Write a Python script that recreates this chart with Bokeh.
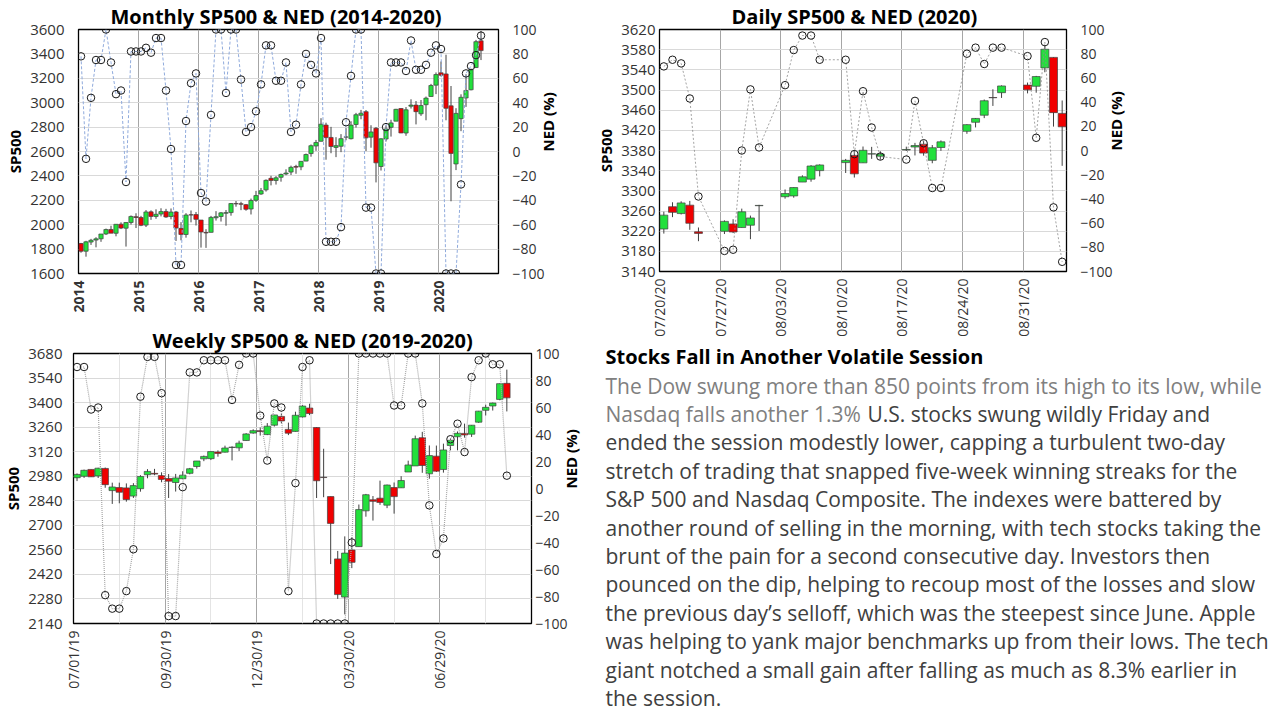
import math
import pandas as pd
from bokeh.plotting import figure
from bokeh.models import Range1d, LinearAxis, FixedTicker, ColumnDataSource
from bokeh.layouts import row, column
from bokeh.embed import file_html
from bokeh.resources import INLINE
from bokeh.core.properties import value

FONT = "Open Sans"

# ---------------- Monthly data (Jan 2014 .. Sep 2020) ----------------
m_start = "2014-01-01"
m_open = [1845.9,1782.7,1857.7,1874.0,1884.4,1923.9,1960.8,1929.8,2004.1,1971.4,2018.2,2065.8,
          2058.9,1996.7,2105.2,2067.6,2087.4,2108.6,2067.0,2104.5,1970.1,1919.7,2080.8,2082.9,
          2038.2,1936.9,1937.1,2056.6,2067.2,2093.9,2099.3,2173.2,2171.3,2164.3,2128.7,2200.2,
          2251.6,2285.6,2380.1,2362.3,2388.5,2415.7,2431.4,2477.1,2474.4,2521.2,2583.2,2645.1,
          2683.7,2816.5,2715.2,2633.5,2643.0,2718.7,2705.0,2821.2,2897.0,2926.3,2717.6,2790.5,
          2477.0,2702.3,2798.2,2848.6,2952.3,2751.5,2971.4,2980.3,2909.0,2983.7,3050.7,3143.9,
          3244.7,3235.7,2974.3,2498.1,2869.1,3038.8,3105.9,3288.3,3507.4]
m_high = [1850.8,1867.9,1884.0,1897.3,1924.0,1968.2,1991.4,2005.0,2019.3,2018.2,2075.8,2093.6,
          2072.4,2119.6,2117.5,2125.9,2134.7,2129.9,2132.8,2112.7,2020.9,2094.3,2116.5,2104.3,
          2038.2,1963.0,2072.2,2111.1,2103.5,2120.6,2177.1,2193.8,2187.9,2169.6,2214.1,2277.5,
          2301.0,2371.5,2401.0,2398.2,2418.7,2453.8,2484.0,2490.9,2519.4,2583.0,2657.7,2695.0,
          2872.9,2836.0,2801.9,2717.5,2742.2,2791.5,2848.0,2916.5,2940.9,2939.9,2815.2,2800.2,
          2709.0,2813.5,2860.3,2949.5,2954.1,2964.2,3028.0,3013.6,3022.0,3050.1,3154.3,3247.9,
          3337.8,3393.5,3136.7,2954.9,3068.7,3233.1,3280.0,3514.8,3588.1]
m_low = [1770.5,1737.9,1834.4,1814.4,1859.8,1916.0,1930.7,1904.8,1964.0,1820.7,2001.0,1972.6,
         1988.1,1980.9,2039.7,2048.4,2067.9,2056.3,2044.0,1867.0,1871.9,1893.7,2019.4,1993.3,
         1812.3,1810.1,1937.1,2033.8,2025.9,1991.7,2074.0,2147.6,2119.1,2114.7,2083.8,2187.4,
         2245.1,2271.7,2322.3,2329.0,2352.7,2405.7,2407.7,2417.4,2446.6,2520.4,2557.5,2605.5,
         2682.4,2532.7,2585.9,2553.8,2594.6,2692.0,2699.0,2796.3,2864.1,2603.5,2631.1,2346.6,
         2444.0,2681.8,2722.3,2848.6,2750.5,2728.8,2952.2,2822.1,2891.9,2855.9,3050.7,3070.3,
         3214.6,2855.8,2191.9,2447.5,2766.6,2965.7,3101.2,3284.5,3349.6]
m_close = [1782.6,1859.5,1872.3,1884.0,1923.6,1960.2,1930.7,2003.4,1972.3,2018.1,2067.6,2058.9,
           1995.0,2104.5,2067.9,2085.5,2107.4,2063.1,2103.8,1972.2,1920.0,2079.4,2080.4,2043.9,
           1940.2,1932.2,2059.7,2065.3,2097.0,2098.9,2173.6,2171.0,2168.3,2126.2,2198.8,2238.8,
           2278.9,2363.6,2362.7,2384.2,2411.8,2423.4,2470.3,2471.7,2519.4,2575.3,2647.6,2673.6,
           2823.8,2713.8,2640.9,2648.1,2705.3,2718.4,2816.3,2901.5,2914.0,2711.7,2760.2,2506.9,
           2704.1,2784.5,2834.4,2945.8,2752.1,2941.8,2980.4,2926.5,2976.7,3037.6,3141.0,3230.8,
           3225.5,2954.2,2584.6,2912.4,3044.3,3100.3,3271.1,3500.3,3427.0]
m_ned = [78,-6,44,75,75,100,73,47,50,-25,82,82,
         82,85,81,93,93,50,2,-93,-93,25,56,64,
         -34,-41,30,100,100,48,100,100,59,16,20,33,
         55,87,87,58,58,73,16,22,55,80,71,64,
         93,-74,-74,-74,-62,24,62,100,100,-46,-46,-100,
         -100,20,73,73,73,66,91,67,67,71,81,87,
         84,-100,-100,-100,-27,64,70,79,95]
m_tick_labels = ["2014", "2015", "2016", "2017", "2018", "2019", "2020"]

# ---------------- Daily data (2020-07-20 .. 2020-09-04) ----------------
d_dates = ["2020-07-20","2020-07-21","2020-07-22","2020-07-23","2020-07-24",
           "2020-07-27","2020-07-28","2020-07-29","2020-07-30","2020-07-31",
           "2020-08-03","2020-08-04","2020-08-05","2020-08-06","2020-08-07",
           "2020-08-10","2020-08-11","2020-08-12","2020-08-13","2020-08-14",
           "2020-08-17","2020-08-18","2020-08-19","2020-08-20","2020-08-21",
           "2020-08-24","2020-08-25","2020-08-26","2020-08-27","2020-08-28",
           "2020-08-31","2020-09-01","2020-09-02","2020-09-03","2020-09-04"]
d_open = [3224.3,3268.5,3254.9,3271.6,3218.6, 3219.8,3234.3,3227.2,3231.8,3270.5,
          3288.3,3289.9,3317.4,3323.2,3340.1, 3356.0,3370.3,3355.5,3373.0,3368.7,
          3380.9,3387.0,3392.5,3360.5,3386.0, 3418.1,3436.0,3450.0,3485.1,3494.7,
          3509.7,3507.4,3543.8,3564.7,3453.6]
d_high = [3258.6,3277.3,3279.3,3280.0,3227.3, 3241.4,3243.7,3264.7,3250.9,3272.2,
          3302.7,3306.8,3330.8,3351.0,3352.5, 3363.3,3381.0,3387.9,3387.2,3378.5,
          3387.6,3395.1,3399.5,3390.8,3400.0, 3432.1,3444.2,3481.1,3501.4,3509.2,
          3514.8,3528.0,3588.1,3564.9,3479.2]
d_low = [3215.2,3247.8,3253.1,3222.7,3200.1, 3214.3,3216.2,3227.2,3204.1,3220.3,
         3284.5,3286.4,3317.4,3318.1,3328.7, 3335.4,3326.4,3355.5,3363.4,3361.6,
         3379.2,3370.2,3369.7,3354.7,3379.3, 3413.1,3425.8,3444.2,3468.4,3484.3,
         3493.3,3494.6,3535.2,3427.4,3349.6]
d_close = [3251.8,3257.3,3276.0,3235.7,3215.6, 3239.4,3218.4,3258.4,3246.2,3271.1,
           3294.6,3306.5,3327.8,3349.2,3351.3, 3360.5,3333.7,3380.4,3373.4,3372.9,
           3382.0,3389.8,3374.9,3385.5,3397.2, 3431.3,3443.6,3478.7,3484.6,3508.0,
           3500.3,3526.7,3580.8,3455.1,3427.0]
d_ned = [69.5,75,72,43,-38, -83,-82,0,50.5,2.5,
         54,83,95,95,75, 75,-3,49,19,-5,
         -7.5,41,6,-31,-31, 80,85,71.5,85,85,
         78,10.5,89.6,-47,-92]
d_tick_labels = ["07/20/20", "07/27/20", "08/03/20", "08/10/20", "08/17/20", "08/24/20", "08/31/20"]

# ---------------- Weekly data (week of 2019-07-01 .. week of 2020-08-31) ----------------
w_start = "2019-07-01"
w_open = [2971.4,2979.8,3018.8,2981.9,3024.5,2898.1,2915.1,2913.5,2866.7,2909.0,
          2988.4,2996.4,2983.5,2967.1,2944.2,2965.8,2996.5,3035.4,3079.0,3080.3,
          3117.9,3117.4,3143.9,3141.9,3183.6,3226.1,3240.1,3217.6,3271.1,3321.0,
          3247.2,3235.7,3318.3,3369.0,3257.6,2974.3,2863.9,2508.6,2290.7,2559.0,
          2578.3,2782.5,2845.6,2854.7,2815.0,2915.5,2913.9,3004.1,3038.8,3199.9,
          2993.8,3094.4,3018.6,3155.3,3205.1,3224.3,3219.8,3288.3,3356.0,3380.9,
          3418.1,3509.7]
w_high = [2995.8,3017.8,3018.8,3028.0,3029.5,2943.3,2943.3,2939.1,2940.4,2985.9,
          3020.4,3022.0,3002.4,2992.5,2993.3,3008.3,3027.4,3067.0,3097.8,3120.5,
          3127.6,3154.3,3150.6,3182.7,3225.7,3247.9,3258.1,3283.0,3329.9,3337.8,
          3285.9,3348.0,3385.1,3393.5,3259.8,3136.7,2863.9,2553.9,2637.0,2631.8,
          2818.6,2879.2,2867.0,2954.9,2932.2,2944.3,2980.3,3068.7,3211.7,3233.1,
          3155.5,3154.9,3165.8,3197.5,3235.3,3280.0,3272.2,3352.5,3387.9,3400.0,
          3509.2,3588.1]
w_low = [2952.2,2970.4,2975.7,2969.8,2914.1,2822.1,2825.7,2835.0,2856.0,2891.9,
         2968.2,2985.7,2945.5,2855.9,2892.7,2962.9,2990.7,3023.2,3065.9,3072.2,
         3091.4,3115.3,3070.3,3123.9,3182.7,3222.4,3212.0,3214.6,3263.5,3281.5,
         3214.6,3234.5,3315.2,3328.5,2855.8,2860.3,2478.9,2280.5,2191.9,2455.8,
         2578.3,2749.2,2727.1,2816.8,2797.9,2766.6,2913.9,3004.1,3038.8,2999.5,
         2965.7,3004.6,3000.5,3127.7,3127.7,3200.1,3204.1,3284.5,3326.4,3354.7,
         3413.1,3349.6]
w_close = [2990.4,3013.8,2976.6,3025.9,2932.1,2918.7,2888.7,2847.1,2926.5,2978.7,
           3007.4,2992.1,2961.8,2952.0,2970.3,2986.2,3022.6,3066.9,3093.1,3120.5,
           3110.3,3141.0,3145.9,3168.8,3221.2,3240.0,3234.9,3265.4,3329.6,3295.5,
           3225.5,3327.7,3380.2,3337.8,2954.2,2972.4,2711.0,2304.9,2541.5,2488.7,
           2789.8,2874.6,2836.7,2830.7,2929.8,2863.7,2955.5,3044.3,3193.9,3041.3,
           3097.7,3009.1,3130.0,3185.0,3224.7,3215.6,3271.1,3351.3,3372.9,3397.2,
           3508.0,3427.0]
w_ned = [90,90,58.5,60,-79,-89,-89,-76,-45,68,
         97.5,97.5,70.6,-94.5,-94.5,1,86,86,95,95,
         95,95,65.6,91.6,100,100,54,20.7,63,60,
         -76,4,90,95,-100,-100,-100,-100,-100,-40,
         100,100,100,100,100,61.5,61.5,100,100,63,
         -12.5,-48.5,-37,36.5,48,27,82.5,95,100,92,
         92,9.5]
w_tick_labels = ["07/01/19", "09/30/19", "12/30/19", "03/30/20", "06/29/20"]

# ---------------- Text ----------------
headline = "Stocks Fall in Another Volatile Session"
lead_lines = ["The Dow swung more than 850 points from its high to its low, while",
              "Nasdaq falls another 1.3%"]
body_first = "U.S. stocks swung wildly Friday and"
body_lines = ["ended the session modestly lower, capping a turbulent two-day",
              "stretch of trading that snapped five-week winning streaks for the",
              "S&P 500 and Nasdaq Composite. The indexes were battered by",
              "another round of selling in the morning, with tech stocks taking the",
              "brunt of the pain for a second consecutive day. Investors then",
              "pounced on the dip, helping to recoup most of the losses and slow",
              "the previous day\u2019s selloff, which was the steepest since June. Apple",
              "was helping to yank major benchmarks up from their lows. The tech",
              "giant notched a small gain after falling as much as 8.3% earlier in",
              "the session."]

UP = "#22E03C"
DOWN = "#F00000"


def candle_chart(title, xs, o, h, l, c, ned, x_end, xticks, xlabels, y_lo, y_hi, y_step,
                 fw, fh, bl, br, bt, bb, bar_w, lcolor, ldash, lwidth,
                 xlab_bold=False, minor=None, title_off=0, left_standoff=12, right_standoff=12):
    p = figure(frame_width=fw, frame_height=fh, x_range=Range1d(0, x_end),
               y_range=Range1d(y_lo, y_hi), output_backend="svg", toolbar_location=None,
               min_border_left=bl, min_border_right=br, min_border_top=bt, min_border_bottom=bb)
    p.title.text = title
    p.title.align = "left"
    p.title.text_font = FONT
    p.title.text_font_size = "20px"
    p.title.text_font_style = "bold"
    p.title.text_color = "#000000"
    p.title.offset = title_off
    p.title.standoff = 0
    p.background_fill_color = "white"
    p.border_fill_color = "white"
    p.outline_line_color = "#000000"
    p.outline_line_width = 1.3
    p.extra_y_ranges = {"ned": Range1d(-100, 100)}

    top = [max(a, b) for a, b in zip(o, c)]
    bot = [min(a, b) for a, b in zip(o, c)]
    col = [UP if b >= a else DOWN for a, b in zip(o, c)]
    src = ColumnDataSource(dict(x=xs, top=top, bot=bot, hi=h, lo=l, col=col))
    p.segment(x0="x", y0="lo", x1="x", y1="hi", source=src, line_color="#404040", line_width=1)
    p.vbar(x="x", width=bar_w, top="top", bottom="bot", fill_color="col",
           line_color="#404040", line_width=0.7, source=src)
    p.line(xs, ned, y_range_name="ned", line_color=lcolor, line_dash=ldash, line_width=lwidth)
    p.scatter(xs, ned, y_range_name="ned", marker="circle", size=7.5, fill_color=None,
              line_color="#1A1A1A", line_width=1)

    yt = list(range(y_lo, y_hi + 1, y_step))
    p.ygrid.ticker = FixedTicker(ticks=yt)
    p.ygrid.grid_line_color = "#D9D9D9"
    p.xgrid.ticker = FixedTicker(ticks=xticks, minor_ticks=minor or [])
    p.xgrid.grid_line_color = "#A6A6A6"
    if minor:
        p.xgrid.minor_grid_line_color = "#E4E4E4"

    xa = p.xaxis[0]
    xa.ticker = FixedTicker(ticks=xticks)
    xa.major_label_overrides = {t: s for t, s in zip(xticks, xlabels)}
    xa.major_label_orientation = math.pi / 2
    xa.major_label_standoff = 7
    xa.major_label_text_font_size = "14px"
    if xlab_bold:
        xa.major_label_text_font_style = "bold"

    ya = p.yaxis[0]
    ya.ticker = FixedTicker(ticks=yt)
    ya.axis_label = "SP500"
    ya.major_label_standoff = left_standoff
    ya.major_label_text_font_size = "15px"
    ya.axis_label_standoff = 2

    ra = LinearAxis(y_range_name="ned", ticker=FixedTicker(ticks=list(range(-100, 101, 20))),
                    axis_label="NED (%)")
    ra.major_label_standoff = right_standoff
    ra.major_label_text_font_size = "14px"
    ra.axis_label_standoff = 0
    try:
        ra.axis_label_orientation = math.pi / 2
    except Exception:
        pass
    p.add_layout(ra, "right")

    for a in (xa, ya, ra):
        a.axis_line_color = None
        a.major_tick_line_color = None
        a.minor_tick_line_color = None
        a.major_tick_out = 0
        a.major_tick_in = 0
        a.minor_tick_out = 0
        a.minor_tick_in = 0
        a.major_label_text_font = FONT
        a.major_label_text_color = "#333333"
        a.axis_label_text_font = FONT
        a.axis_label_text_font_size = "15px"
        a.axis_label_text_font_style = "bold"
        a.axis_label_text_color = "#000000"
    return p


# Monthly
m_dates = pd.date_range(m_start, periods=len(m_close), freq="MS")
m_idx = [(d.year - 2014) * 12 + (d.month - 1) for d in m_dates]
m_x = [i + 0.5 for i in m_idx]
m_ticks = [(int(y) - 2014) * 12 for y in m_tick_labels]
pm = candle_chart("Monthly SP500 & NED (2014-2020)", m_x, m_open, m_high, m_low, m_close, m_ned,
                  84, m_ticks, m_tick_labels, 1600, 3600, 200,
                  420, 244, 78, 84, 20, 46, 0.85, "#8FAADC", "3 2", 1,
                  xlab_bold=True, title_off=32, left_standoff=14, right_standoff=14)

# Daily
d0 = pd.Timestamp(d_dates[0])
d_x = [(pd.Timestamp(d) - d0).days + 0.5 for d in d_dates]
d_ticks = [(pd.Timestamp("2020-" + s[:5].replace("/", "-")) - d0).days for s in d_tick_labels]
pdly = candle_chart("Daily SP500 & NED (2020)", d_x, d_open, d_high, d_low, d_close, d_ned,
                    47, d_ticks, d_tick_labels, 3140, 3620, 40,
                    407, 242, 61, 70, 23, 67, 0.92, "#8C8C8C", "2 2", 0.8,
                    title_off=72, left_standoff=4, right_standoff=14)

# Weekly
w0 = pd.Timestamp(w_start)
w_dates = pd.date_range(w_start, periods=len(w_close), freq="7D")
w_x = [(d - w0).days / 7 + 0.5 for d in w_dates]
w_ticks = [(pd.Timestamp("20" + s[6:] + "-" + s[:2] + "-" + s[3:5]) - w0).days // 7 for s in w_tick_labels]
w_minor = [t + 6.5 for t in w_ticks]
pw = candle_chart("Weekly SP500 & NED (2019-2020)", w_x, w_open, w_high, w_low, w_close, w_ned,
                  65, w_ticks, w_tick_labels, 2140, 3680, 140,
                  458, 270, 68, 58, 34, 90, 0.92, "#A6A6A6", "1 1", 1.2,
                  minor=w_minor, title_off=79, left_standoff=11, right_standoff=4)

# Text panel
TW, TH = 680, 372
pt = figure(width=TW, height=TH, x_range=Range1d(0, TW), y_range=Range1d(TH, 0),
            x_axis_type=None, y_axis_type=None, output_backend="svg", toolbar_location=None,
            min_border=0)
pt.grid.visible = False
pt.outline_line_color = None
pt.background_fill_color = "white"
pt.border_fill_color = "white"
LX, Y0, DY = 12, 46, 28.4
pt.text(x=[LX], y=[17], text=[headline], text_font=value(FONT), text_font_size="20px",
        text_font_style="bold", text_color="#000000", text_baseline="middle")
pt.text(x=[LX] * len(lead_lines), y=[Y0 + DY * i for i in range(len(lead_lines))], text=lead_lines,
        text_font=value(FONT), text_font_size="21px", text_color="#808080", text_baseline="middle")
pt.text(x=[LX + 262], y=[Y0 + DY], text=[body_first], text_font=value(FONT), text_font_size="21px",
        text_color="#404040", text_baseline="middle")
pt.text(x=[LX] * len(body_lines), y=[Y0 + DY * (i + 2) for i in range(len(body_lines))], text=body_lines,
        text_font=value(FONT), text_font_size="21px", text_color="#404040", text_baseline="middle")

# each figure wrapped on its own so that the columns do not equalise their borders
layout = row(column(row(pm), row(pw)), column(row(pdly), row(pt)))
open("out.html", "w").write(file_html(layout, INLINE))
